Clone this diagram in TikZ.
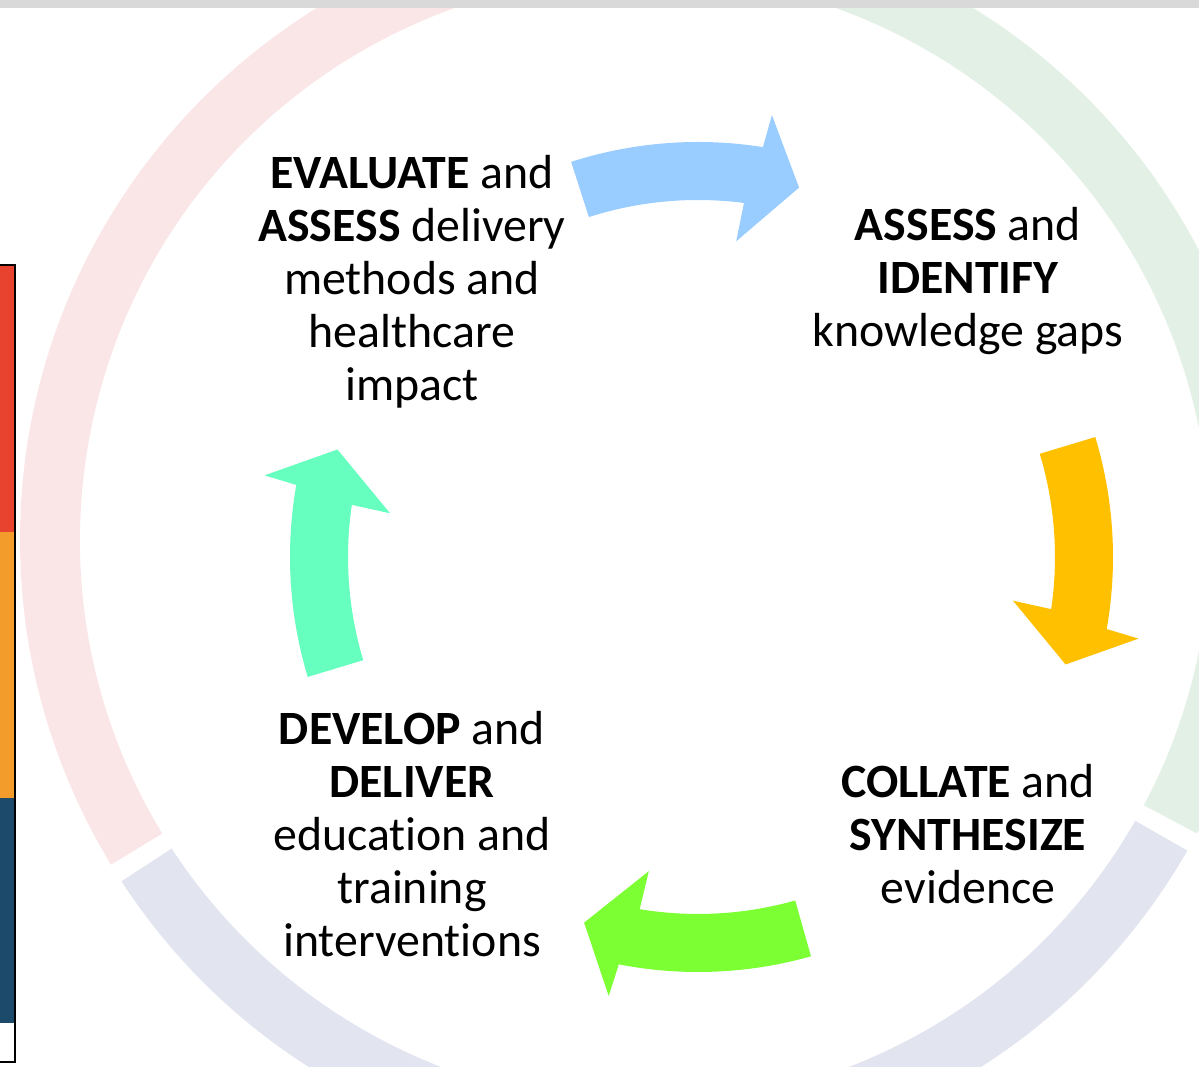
\documentclass[tikz,border=0pt]{standalone}
\usepackage{fontspec}
\setmainfont{Carlito}[Ligatures=NoCommon]
\usepackage{tikz}
\usetikzlibrary{calc}

\definecolor{ringpink}{RGB}{250,230,230}
\definecolor{ringgreen}{RGB}{226,240,229}
\definecolor{ringlav}{RGB}{226,228,240}
\definecolor{arrblue}{RGB}{153,204,255}
\definecolor{arryellow}{RGB}{255,192,0}
\definecolor{arrgreen}{RGB}{124,255,51}
\definecolor{arrteal}{RGB}{102,255,192}
\definecolor{barred}{RGB}{232,67,46}
\definecolor{barorange}{RGB}{243,156,43}
\definecolor{barblue}{RGB}{27,74,107}
\definecolor{topgrey}{RGB}{217,217,217}

\tikzset{steptext/.style={align=center, font=\fontsize{13.6}{15.1}\selectfont, inner sep=0pt}}

% one curved block arrow round #3, turned by #2 degrees
\newcommand{\cyclearrow}[3]{%
  \fill[#1] ([shift={(#3)}]{106.8+#2}:415) arc[start angle={106.8+#2}, end angle={80+#2}, radius=415]
    -- ([shift={(#3)}]{79.5+#2}:448) -- ([shift={(#3)}]{73.7+#2}:383) -- ([shift={(#3)}]{82.1+#2}:318)
    -- ([shift={(#3)}]{81.6+#2}:357) arc[start angle={81.6+#2}, end angle={106.8+#2}, radius=357] -- cycle;}

\begin{document}
\begin{tikzpicture}[x=0.1mm, y=0.1mm]
    \useasboundingbox (0,0) rectangle (1199,1067);
    \clip (0,0) rectangle (1199,1067);
    \coordinate (O) at (645,527);   % ring centre
    \coordinate (A) at (698,510);   % arrows centre
    \coordinate (At) at (705,510);

    % faint ring
    \fill[ringpink] ([shift={(O)}]91:625) arc[start angle=91, end angle=211.3, radius=625]
      -- ([shift={(O)}]211.3:565) arc[start angle=211.3, end angle=91, radius=565] -- cycle;
    \fill[ringgreen] ([shift={(O)}]-28:625) arc[start angle=-28, end angle=89, radius=625]
      -- ([shift={(O)}]89:565) arc[start angle=89, end angle=-28, radius=565] -- cycle;
    \fill[ringlav] ([shift={(O)}]213.1:625) arc[start angle=213.1, end angle=330.2, radius=625]
      -- ([shift={(O)}]330.2:565) arc[start angle=330.2, end angle=213.1, radius=565] -- cycle;

    % top bar and left strip
    \fill[topgrey] (0,1059) rectangle (1199,1067);
    \fill[barred] (-20,535) rectangle (15,802);
    \fill[barorange] (-20,269) rectangle (15,535);
    \fill[barblue] (-20,44) rectangle (15,269);
    \draw[line width=0.15mm] (-20,5) rectangle (15,802);

    % arrows
    \cyclearrow{arrblue}{1}{A}
    \cyclearrow{arryellow}{-90}{A}
    \cyclearrow{arrgreen}{-181}{A}
    \cyclearrow{arrteal}{-270}{At}

    % labels
    \node[steptext] (eval) at (412,785.5) {\textbf{EVALUATE} and\\\textbf{ASSESS} delivery\\methods and\\healthcare\\impact};
    \node[steptext] (assess) at (968,786) {\textbf{ASSESS} and\\\textbf{IDENTIFY}\\knowledge gaps};
    \node[steptext] (collate) at (968,233) {\textbf{COLLATE} and\\\textbf{SYNTHESIZE}\\evidence};
    \node[steptext] (develop) at (412,233) {\textbf{DEVELOP} and\\\textbf{DELIVER}\\education and\\training\\interventions};
\end{tikzpicture}
\end{document}
